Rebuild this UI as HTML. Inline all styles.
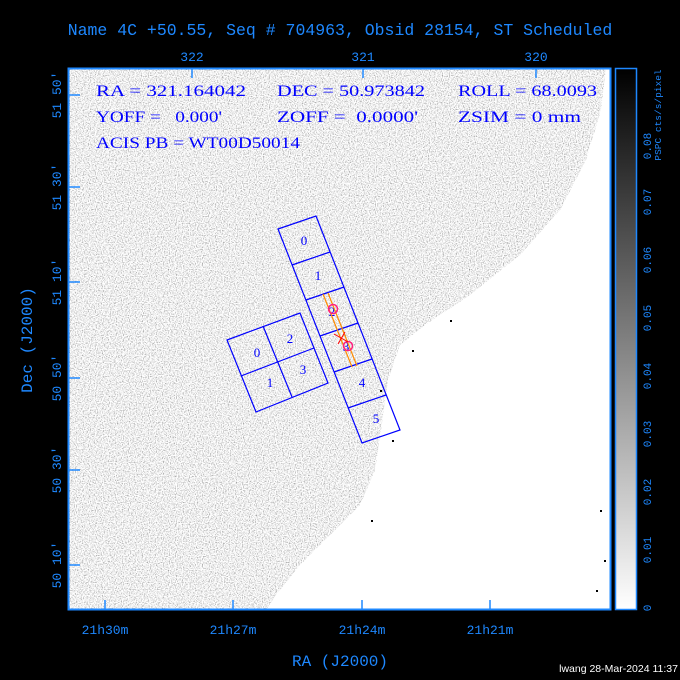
<!DOCTYPE html>
<html><head><meta charset="utf-8"><style>
html,body{margin:0;padding:0;background:#000;}
svg{display:block;}
</style></head><body>
<svg width="680" height="680" xmlns="http://www.w3.org/2000/svg" font-family="Liberation Mono, monospace">
<defs>
<filter id="nz" x="0" y="0" width="100%" height="100%">
<feTurbulence type="fractalNoise" baseFrequency="0.85" numOctaves="2" seed="3" result="t"/>
<feColorMatrix type="matrix" values="1.8 0 0 0 -0.02  1.8 0 0 0 -0.02  1.8 0 0 0 -0.02  0 0 0 0 1"/>
</filter>
<clipPath id="cg"><polygon points="68,68 606,68 601,110 586,160 560,210 520,255 470,295 425,325 400,345 388,380 381,430 375,470 360,505 330,535 300,565 276,595 266,610 68,610"/></clipPath>
<linearGradient id="cb" x1="0" y1="1" x2="0" y2="0"><stop offset="0" stop-color="#fff"/><stop offset="1" stop-color="#000"/></linearGradient>
</defs>
<rect width="680" height="680" fill="#000"/>
<text x="340" y="35" fill="#1e88ff" font-size="16.5" text-anchor="middle">Name 4C +50.55, Seq # 704963, Obsid 28154, ST Scheduled</text>
<g fill="#1e88ff" font-size="13" text-anchor="middle">
<text x="192" y="61">322</text><text x="363" y="61">321</text><text x="536" y="61">320</text>
<text x="105" y="634">21h30m</text><text x="233" y="634">21h27m</text><text x="362" y="634">21h24m</text><text x="490" y="634">21h21m</text>
<text x="340" y="666" font-size="16">RA (J2000)</text>
<text transform="translate(32,340) rotate(-90)" font-size="16">Dec (J2000)</text>
<text transform="translate(61,95) rotate(-90)">51 50'</text>
<text transform="translate(61,187) rotate(-90)">51 30'</text>
<text transform="translate(61,282) rotate(-90)">51 10'</text>
<text transform="translate(61,378) rotate(-90)">50 50'</text>
<text transform="translate(61,470) rotate(-90)">50 30'</text>
<text transform="translate(61,565) rotate(-90)">50 10'</text>
</g>
<rect x="68" y="68" width="543" height="542" fill="#fff"/>
<rect x="68" y="68" width="543" height="542" filter="url(#nz)" clip-path="url(#cg)"/>
<g fill="#000">
<rect x="380" y="390" width="2" height="2"/><rect x="392" y="440" width="2" height="2"/><rect x="371" y="520" width="2" height="2"/><rect x="600" y="510" width="2" height="2"/><rect x="604" y="560" width="2" height="2"/><rect x="596" y="590" width="2" height="2"/><rect x="412" y="350" width="2" height="2"/><rect x="450" y="320" width="2" height="2"/>
</g>
<rect x="68.5" y="68.5" width="542" height="541" fill="none" stroke="#1e88ff" stroke-width="2"/>
<g stroke="#1e88ff" stroke-width="1.5">
<line x1="192" y1="68" x2="192" y2="78"/><line x1="363" y1="68" x2="363" y2="78"/><line x1="536" y1="68" x2="536" y2="78"/>
<line x1="105" y1="610" x2="105" y2="600"/><line x1="233" y1="610" x2="233" y2="600"/><line x1="362" y1="610" x2="362" y2="600"/><line x1="490" y1="610" x2="490" y2="600"/>
<line x1="68" y1="95" x2="80" y2="95"/><line x1="68" y1="187" x2="80" y2="187"/><line x1="68" y1="282" x2="80" y2="282"/><line x1="68" y1="378" x2="80" y2="378"/><line x1="68" y1="470" x2="80" y2="470"/><line x1="68" y1="565" x2="80" y2="565"/>
</g>
<g fill="#0000ff" font-size="16" font-family="Liberation Serif, serif">
<text x="96" y="96" textLength="150" lengthAdjust="spacingAndGlyphs">RA = 321.164042</text>
<text x="277" y="96" textLength="148" lengthAdjust="spacingAndGlyphs">DEC = 50.973842</text>
<text x="458" y="96" textLength="139" lengthAdjust="spacingAndGlyphs">ROLL = 68.0093</text>
<text x="96" y="122" xml:space="preserve" textLength="126" lengthAdjust="spacingAndGlyphs">YOFF =   0.000'</text>
<text x="277" y="122" xml:space="preserve" textLength="141" lengthAdjust="spacingAndGlyphs">ZOFF =  0.0000'</text>
<text x="458" y="122" textLength="123" lengthAdjust="spacingAndGlyphs">ZSIM = 0 mm</text>
<text x="96" y="148" textLength="204" lengthAdjust="spacingAndGlyphs">ACIS PB = WT00D50014</text>
</g>
<g fill="none" stroke="#0000ff" stroke-width="1.2">
<polygon points="278,229 316,216 400,430 362,443"/>
<line x1="292" y1="265" x2="330" y2="252"/><line x1="306" y1="300" x2="344" y2="287"/><line x1="320" y1="336" x2="358" y2="323"/><line x1="334" y1="372" x2="372" y2="359"/><line x1="348" y1="408" x2="386" y2="395"/>
<polygon points="227,340 300,313 328,383 256,412"/>
<line x1="263" y1="326" x2="292" y2="397"/><line x1="241" y1="376" x2="314" y2="348"/>
</g>
<g fill="#0000ff" font-size="13" text-anchor="middle" font-family="Liberation Serif, serif">
<text x="304" y="245">0</text><text x="318" y="280">1</text><text x="332" y="316">2</text><text x="346" y="351">3</text><text x="362" y="387">4</text><text x="376" y="423">5</text>
<text x="257" y="357">0</text><text x="290" y="343">2</text><text x="270" y="387">1</text><text x="303" y="374">3</text>
</g>
<g stroke="#ff8c00" stroke-width="1.2"><line x1="323" y1="294" x2="352" y2="367"/><line x1="328" y1="293" x2="357" y2="366"/></g>
<g fill="none" stroke="#ff2080" stroke-width="1.5"><circle cx="333" cy="309" r="4.5"/><circle cx="348" cy="346" r="4.5"/></g>
<g stroke="#ff0000" stroke-width="1"><line x1="334" y1="334" x2="348" y2="342"/><line x1="338" y1="344" x2="345" y2="332"/></g>
<rect x="615.5" y="68.5" width="21" height="541" fill="url(#cb)" stroke="#1e88ff" stroke-width="1.5"/>
<g fill="#1e88ff" font-size="11" text-anchor="middle">
<text transform="translate(651,608) rotate(-90)">0</text>
<text transform="translate(651,550) rotate(-90)">0.01</text>
<text transform="translate(651,492) rotate(-90)">0.02</text>
<text transform="translate(651,434) rotate(-90)">0.03</text>
<text transform="translate(651,376) rotate(-90)">0.04</text>
<text transform="translate(651,318) rotate(-90)">0.05</text>
<text transform="translate(651,260) rotate(-90)">0.06</text>
<text transform="translate(651,202) rotate(-90)">0.07</text>
<text transform="translate(651,146) rotate(-90)">0.08</text>
<text transform="translate(661,115) rotate(-90)" font-size="9.5">PSPC cts/s/pixel</text>
</g>
<text x="678" y="672" fill="#fff" font-size="10.5" text-anchor="end" font-family="Liberation Sans, sans-serif">lwang 28-Mar-2024 11:37</text>
</svg>
</body></html>
